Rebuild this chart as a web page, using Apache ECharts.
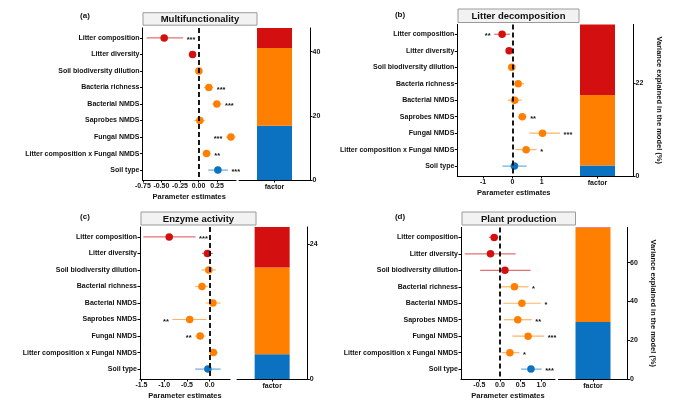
<!DOCTYPE html>
<html><head><meta charset="utf-8">
<script src="https://cdn.jsdelivr.net/npm/echarts@6/dist/echarts.min.js"></script>
<style>html,body{margin:0;padding:0;background:#fff}#c{width:680px;height:408px}</style>
</head><body><div id="c"></div>
<script>
// ---------------- DATA ----------------
const catsAB = ['Litter composition','Litter diversity','Soil biodiversity dilution','Bacteria richness','Bacterial NMDS','Saprobes NMDS','Fungal NMDS','Litter composition x Fungal NMDS','Soil type'];
const catsCD = ['Litter composition','Litter diversity','Soil biodiversity dilution','Bacterial richness','Bacterial NMDS','Saprobes NMDS','Fungal NMDS','Litter composition x Fungal NMDS','Soil type'];

const panelTitles = ['Multifunctionality','Litter decomposition','Enzyme activity','Plant production'];
const panelTags = ['(a)','(b)','(c)','(d)'];

// parameter estimates, lower / upper CI, significance, star side
const estA = [-0.463,-0.08,0.005,0.139,0.247,0.018,0.436,0.108,0.261];
const loA  = [-0.70,-0.11,-0.02,0.072,0.184,-0.058,0.369,0.05,0.13];
const hiA  = [-0.207,-0.05,0.03,0.198,0.31,0.085,0.503,0.166,0.396];
const starsA = ['***','','','***','***','','***','**','***'];
const sideA  = ['R','R','R','R','R','R','L','R','R'];
const groupA = ['litter','litter','soil','soil','soil','soil','soil','soil','type'];

const estB = [-0.35,-0.11,-0.02,0.20,0.08,0.34,1.03,0.47,0.07];
const loB  = [-0.62,-0.20,-0.06,0.01,-0.16,0.20,0.58,0.11,-0.34];
const hiB  = [-0.08,-0.02,0.02,0.41,0.32,0.49,1.63,0.83,0.49];
const starsB = ['**','','','','','**','***','*',''];
const sideB  = ['L','R','R','R','R','R','R','R','R'];
const groupB = ['litter','litter','soil','soil','soil','soil','soil','soil','type'];

const estC = [-0.89,-0.05,-0.02,-0.17,0.07,-0.44,-0.21,0.08,-0.04];
const loC  = [-1.46,-0.17,-0.18,-0.32,-0.09,-0.82,-0.32,0.00,-0.32];
const hiC  = [-0.31,0.07,0.13,-0.04,0.24,-0.07,-0.09,0.18,0.24];
const starsC = ['***','','','','','**','**','',''];
const sideC  = ['R','R','R','R','R','L','L','R','R'];
const groupC = ['litter','litter','soil','soil','soil','soil','soil','soil','type'];

const estD = [-0.14,-0.23,0.12,0.35,0.53,0.43,0.68,0.24,0.75];
const loD  = [-0.27,-0.85,-0.48,0.02,0.08,0.10,0.30,0.04,0.51];
const hiD  = [-0.04,0.38,0.74,0.69,0.99,0.77,1.07,0.47,1.01];
const starsD = ['','','','*','*','**','***','*','***'];
const sideD  = ['R','R','R','R','R','R','R','R','R'];
const groupD = ['litter','litter','litter','soil','soil','soil','soil','soil','type'];

// variance explained (%) per panel a,b,c,d
const varSoilType = [16.9, 2.5, 4.4, 29.4];
const varSoil     = [24.3, 16.6, 15.4, 48.4];
const varLitter   = [6.2, 16.7, 7.2, 0.3];

// tick labels
const xTicksA = [-0.75,-0.5,-0.25,0,0.25];
const xTicksB = [-1,0,1];
const xTicksC = [-1.5,-1,-0.5,0];
const xTicksD = [-0.5,0,0.5,1];
const varTicks = [[0,20,40],[0,22],[0,24],[0,20,40,60]];

// ---------------- STYLE / LAYOUT ----------------
const COL = {litter:'#d40f0f', soil:'#ff8000', type:'#0a72c0'};
const FONT = "'Liberation Sans', Arial, Helvetica, sans-serif";
const INK = '#111';

const layouts = [
  {forest:{l:142.5,r:236,t:28,b:180}, xmin:-0.755, xmax:0.505, dec:2, bar:{l:239,r:310}, strip:{x:143,y:12.7,w:114,h:12.5}, tag:[85,16], varName:false},
  {forest:{l:457.3,r:570.3,t:24.4,b:176}, xmin:-1.88, xmax:1.98, dec:0, bar:{l:562,r:633}, strip:{x:458,y:9,w:121,h:13.5}, tag:[400,15], varName:true},
  {forest:{l:140,r:230,t:227,b:379}, xmin:-1.532, xmax:0.446, dec:1, bar:{l:237,r:307.3}, strip:{x:141,y:212,w:115,h:13}, tag:[85,217], varName:false},
  {forest:{l:461,r:555,t:227.5,b:379}, xmin:-0.944, xmax:1.332, dec:1, bar:{l:558.5,r:627.5}, strip:{x:462,y:212,w:113.5,h:13}, tag:[400,217], varName:true}
];

const panels = [
  {cats:catsAB, est:estA, lo:loA, hi:hiA, stars:starsA, side:sideA, group:groupA, ticks:xTicksA},
  {cats:catsAB, est:estB, lo:loB, hi:hiB, stars:starsB, side:sideB, group:groupB, ticks:xTicksB},
  {cats:catsCD, est:estC, lo:loC, hi:hiC, stars:starsC, side:sideC, group:groupC, ticks:xTicksC},
  {cats:catsCD, est:estD, lo:loD, hi:hiD, stars:starsD, side:sideD, group:groupD, ticks:xTicksD}
];

const W = 680, H = 408;
const grid = [], xAxis = [], yAxis = [], series = [], graphic = [];
const axisLineStyle = {color:'#000', width:1};
const lblStyle = {fontSize:7, fontWeight:'bold', color:INK, fontFamily:FONT};

panels.forEach((p, k) => {
  const L = layouts[k];
  const gi = 2*k, gb = 2*k+1;
  const idx = p.cats.map((c,i)=>i);
  grid.push({left:L.forest.l, right:W-L.forest.r, top:L.forest.t, bottom:H-L.forest.b, outerBoundsMode:'none'});
  grid.push({left:L.bar.l, right:W-L.bar.r, top:L.forest.t, bottom:H-L.forest.b, outerBoundsMode:'none'});
  xAxis.push({gridIndex:gi, type:'value', min:L.xmin, max:L.xmax, splitLine:{show:false},
    axisLine:{show:true, onZero:false, lineStyle:axisLineStyle},
    axisTick:{show:true, length:2.5, customValues:p.ticks, lineStyle:axisLineStyle},
    axisLabel:Object.assign({customValues:p.ticks, margin:3, formatter:v=>Number(v).toFixed(L.dec)}, lblStyle),
    name:'Parameter estimates', nameLocation:'middle', nameGap:13,
    nameTextStyle:{fontSize:7.5, fontWeight:'bold', color:INK, fontFamily:FONT}});
  xAxis.push({gridIndex:gb, type:'category', data:['factor'],
    axisLine:{show:true, lineStyle:axisLineStyle},
    axisTick:{show:true, length:2.5, alignWithLabel:true, lineStyle:axisLineStyle},
    axisLabel:Object.assign({margin:4}, lblStyle)});
  yAxis.push({gridIndex:gi, type:'value', inverse:true, min:-0.6, max:8.6, splitLine:{show:false},
    axisLine:{show:true, onZero:false, lineStyle:axisLineStyle},
    axisTick:{show:true, length:2.5, customValues:idx, lineStyle:axisLineStyle},
    axisLabel:Object.assign({customValues:idx, margin:3, formatter:v=>p.cats[Math.round(v)]}, lblStyle)});
  const total = varSoilType[k] + varSoil[k] + varLitter[k];
  const yb = {gridIndex:gb, type:'value', position:'right', min:0, max:total, splitLine:{show:false},
    axisLine:{show:true, onZero:false, lineStyle:axisLineStyle},
    axisTick:{show:true, length:2.5, customValues:varTicks[k], lineStyle:axisLineStyle},
    axisLabel:Object.assign({customValues:varTicks[k], margin:2.5}, lblStyle)};
  if (L.varName) {
    Object.assign(yb, {name:'Variance explained in the model (%)', nameLocation:'middle', nameRotate:-90, nameGap:22,
      nameTextStyle:{fontSize:7.5, fontWeight:'bold', color:INK, fontFamily:FONT}});
  }
  yAxis.push(yb);

  // error bars
  series.push({type:'custom', xAxisIndex:gi, yAxisIndex:gi, z:2, clip:false,
    data:p.lo.map((l,i)=>[l, p.hi[i], i]), encode:{x:[0,1], y:2},
    renderItem:(params, api)=>{
      const a = api.coord([api.value(0), api.value(2)]);
      const b = api.coord([api.value(1), api.value(2)]);
      return {type:'line', shape:{x1:a[0], y1:a[1], x2:b[0], y2:b[1]},
        style:{stroke:COL[p.group[params.dataIndex]], lineWidth:1.2, opacity:0.6}};
    }});
  // points
  series.push({type:'scatter', xAxisIndex:gi, yAxisIndex:gi, z:3, symbolSize:7.5,
    data:p.est.map((e,i)=>({value:[e,i], itemStyle:{color:COL[p.group[i]], opacity:1}})),
    markLine:{silent:true, symbol:['none','none'], label:{show:false},
      lineStyle:{color:'#000', type:[5,3], width:1.8}, data:[{xAxis:0}]}});
  // significance stars
  series.push({type:'custom', xAxisIndex:gi, yAxisIndex:gi, z:3, clip:false,
    data:p.lo.map((l,i)=>[l, p.hi[i], i]), encode:{x:[0,1], y:2},
    renderItem:(params, api)=>{
      const i = params.dataIndex;
      const s = p.stars[i];
      if (!s) return null;
      const right = p.side[i] === 'R';
      const c = api.coord([right ? api.value(1) : api.value(0), api.value(2)]);
      return {type:'text', x: c[0] + (right ? 3.5 : -3.5), y: c[1] + 2,
        style:{text:s, fill:INK, font:'bold 7.5px ' + FONT, align: right ? 'left':'right', verticalAlign:'middle'}};
    }});
  // stacked variance bars
  [['soil type', varSoilType, COL.type], ['soil', varSoil, COL.soil], ['litter', varLitter, COL.litter]].forEach(([nm, arr, col])=>{
    series.push({type:'bar', name:nm, xAxisIndex:gb, yAxisIndex:gb, stack:'v'+k, barWidth:35,
      data:[arr[k]], itemStyle:{color:col}});
  });

  // strip and tag
  graphic.push({type:'rect', shape:{x:L.strip.x, y:L.strip.y, width:L.strip.w, height:L.strip.h},
    style:{fill:'#f2f2f2', stroke:'#9a9a9a', lineWidth:1}, z:10});
  graphic.push({type:'text', x:L.strip.x + L.strip.w/2, y:L.strip.y + L.strip.h/2 + 0.5,
    style:{text:panelTitles[k], font:'bold 9.5px ' + FONT, fill:INK, align:'center', verticalAlign:'middle'}, z:11});
  graphic.push({type:'text', x:L.tag[0], y:L.tag[1],
    style:{text:panelTags[k], font:'bold 8px ' + FONT, fill:INK, align:'center', verticalAlign:'middle'}, z:11});
});

const chart = echarts.init(document.getElementById('c'), null, {renderer:'canvas'});
chart.setOption({animation:false, backgroundColor:'#fff', grid, xAxis, yAxis, series, graphic});
</script>
</body></html>
